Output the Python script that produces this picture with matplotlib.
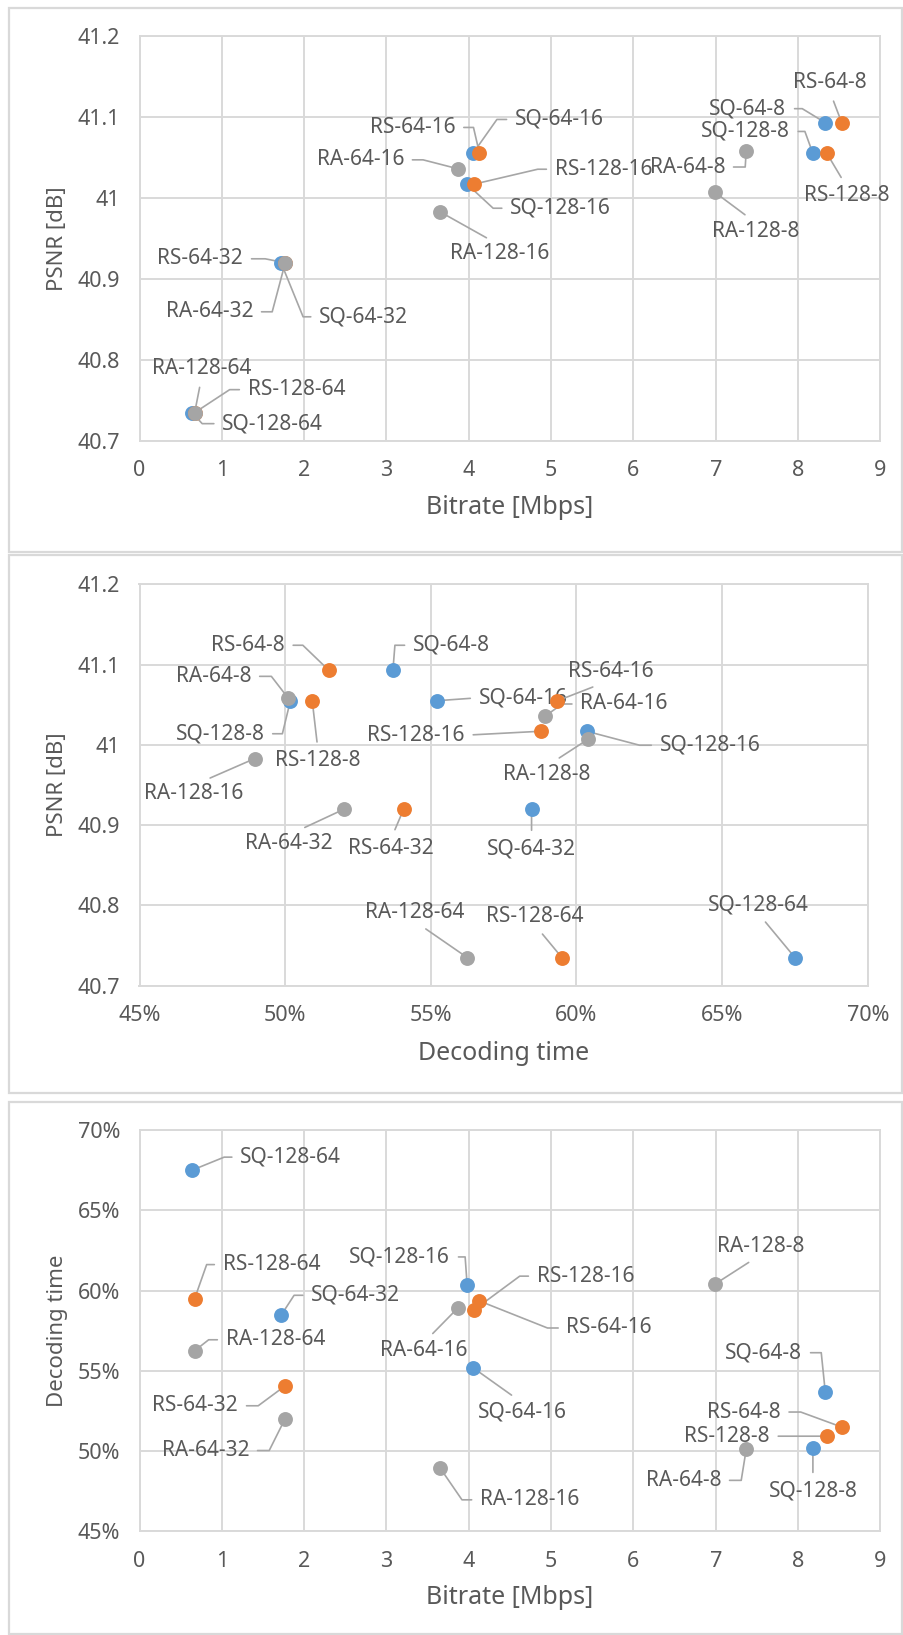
import matplotlib
matplotlib.use('Agg')
import matplotlib.pyplot as plt
from matplotlib.patches import Rectangle
from matplotlib.ticker import PercentFormatter
import numpy as np

plt.rcParams['font.family'] = ['Noto Sans', 'DejaVu Sans']

# ---- data ---------------------------------------------------------------
sq_names = ['SQ-64-8', 'SQ-128-8', 'SQ-64-16', 'SQ-128-16', 'SQ-64-32', 'SQ-128-64']
sq_bitrate = [8.33, 8.18, 4.05, 3.98, 1.72, 0.64]
sq_psnr = [41.093, 41.055, 41.055, 41.017, 40.920, 40.735]
sq_dec = [53.7, 50.18, 55.2, 60.35, 58.46, 67.5]

rs_names = ['RS-64-8', 'RS-128-8', 'RS-64-16', 'RS-128-16', 'RS-64-32', 'RS-128-64']
rs_bitrate = [8.53, 8.35, 4.13, 4.06, 1.77, 0.67]
rs_psnr = [41.093, 41.055, 41.055, 41.017, 40.920, 40.735]
rs_dec = [51.5, 50.93, 59.35, 58.78, 54.07, 59.5]

ra_names = ['RA-64-8', 'RA-128-8', 'RA-64-16', 'RA-128-16', 'RA-64-32', 'RA-128-64']
ra_bitrate = [7.37, 6.99, 3.87, 3.65, 1.77, 0.67]
ra_psnr = [41.058, 41.007, 41.036, 40.983, 40.920, 40.735]
ra_dec = [50.11, 60.4, 58.93, 48.96, 52.03, 56.25]

psnr_ticks = [40.7, 40.8, 40.9, 41.0, 41.1, 41.2]
bitrate_ticks = list(range(0, 10))
dec_ticks = [45, 50, 55, 60, 65, 70]

# ---- label placement (pixels from the point: dx, dy, side, elbow x) -----
lab1 = {
    'SQ-64-8': (-39, 14, 'r', -23), 'RS-64-8': (-12, 40, 'b', None),
    'SQ-128-8': (-23, 22, 'r', -8), 'RS-128-8': (20, -42, 't', None),
    'RA-64-8': (-21, -16, 'r', -1), 'RA-128-8': (41, -39, 't', None),
    'SQ-64-16': (42, 34, 'l', 24), 'RS-64-16': (-24, 26, 'r', -6),
    'RA-64-16': (-54, 9, 'r', -35), 'RS-128-16': (81, 15, 'l', 64),
    'SQ-128-16': (43, -24, 'l', 26), 'RA-128-16': (60, -42, 't', None),
    'RS-64-32': (-42, 4, 'r', -20), 'RA-64-32': (-32, -49, 'r', -13),
    'SQ-64-32': (38, -54, 'l', 22), 'RA-128-64': (7, 44, 'b', None),
    'RS-128-64': (53, 23, 'l', 35), 'SQ-128-64': (30, -11, 'l', 10),
}
lab2 = {
    'RS-64-8': (-44, 25, 'r', -26), 'SQ-64-8': (20, 25, 'l', 2),
    'RA-64-8': (-37, 22, 'r', -17), 'SQ-128-8': (-26, -33, 'r', -8),
    'RS-128-8': (6, -60, 't', None), 'SQ-64-16': (42, 3, 'l', None),
    'RS-128-16': (-76, -4, 'r', None), 'RA-128-16': (-61, -35, 't', None),
    'RA-64-32': (-55, -34, 't', None), 'RS-64-32': (-13, -39, 't', None),
    'SQ-64-32': (0, -40, 't', None), 'RS-64-16': (53, 29, 'b', None),
    'RA-64-16': (35, 12, 'l', 17), 'SQ-128-16': (73, -14, 'l', 53),
    'RA-128-8': (-41, -35, 't', None), 'RA-128-64': (-53, 45, 'b', None),
    'RS-128-64': (-27, 41, 'b', None), 'SQ-128-64': (-37, 53, 'b', None),
}
lab3 = {
    'SQ-128-64': (48, 13, 'l', 32), 'RS-128-64': (28, 34, 'l', 12),
    'SQ-64-32': (30, 20, 'l', 13), 'RA-128-64': (31, 11, 'l', 14),
    'RS-64-32': (-47, -20, 'r', -27), 'RA-64-32': (-36, -32, 'r', -16),
    'SQ-128-16': (-17, 28, 'r', -2), 'RA-64-16': (-34, -43, 't', None),
    'SQ-64-16': (50, -44, 't', None), 'RS-128-16': (63, 34, 'l', 46),
    'RS-64-16': (87, -27, 'l', 68), 'RA-128-8': (46, 38, 'b', None),
    'SQ-64-8': (-23, 39, 'r', -4), 'RS-64-8': (-61, 15, 'r', -41),
    'RS-128-8': (-57, 0, 'r', None), 'RA-64-8': (-25, -31, 'r', -5),
    'SQ-128-8': (0, -43, 't', None), 'RA-128-16': (40, -32, 'l', 22),
}

TXT = '#595959'
GRID = '#D9D9D9'
LEAD = '#A6A6A6'
series = [
    (sq_names, sq_bitrate, sq_psnr, sq_dec, '#5B9BD5'),
    (rs_names, rs_bitrate, rs_psnr, rs_dec, '#ED7D31'),
    (ra_names, ra_bitrate, ra_psnr, ra_dec, '#A5A5A5'),
]


def put_label(ax, x, y, text, dx, dy, side, ex):
    k = 0.72  # px -> pt at 100 dpi
    ha = {'r': 'right', 'l': 'left', 'b': 'center', 't': 'center'}[side]
    relpos = {'r': (1, 0.5), 'l': (0, 0.5), 'b': (0.5, 0.1), 't': (0.5, 0.9)}[side]
    if ex is None or dy == 0:
        conn = 'arc3'
    else:
        conn = 'angle,angleA=0,angleB=%.2f,rad=0' % np.degrees(np.arctan2(dy, ex))
    ax.annotate(text, (x, y), xytext=(dx * k, dy * k), textcoords='offset points',
                ha=ha, va='center', fontsize=15, color=TXT, zorder=3,
                arrowprops=dict(arrowstyle='-', color=LEAD, lw=1.2, relpos=relpos,
                                shrinkA=4, shrinkB=0, connectionstyle=conn))


def draw(ax, xi, yi, layout):
    for s in series:
        ax.scatter(s[xi], s[yi], s=115, color=s[4], linewidths=0, zorder=4)
        for name, x, y in zip(s[0], s[xi], s[yi]):
            put_label(ax, x, y, name, *layout[name])
    ax.set_axisbelow(True)
    ax.grid(True, color=GRID, lw=1.4)
    for sp in ax.spines.values():
        sp.set_color(GRID)
        sp.set_linewidth(1.4)
    ax.tick_params(length=0, labelsize=15.5, labelcolor=TXT)
    ax.tick_params(axis='x', pad=14)
    ax.tick_params(axis='y', pad=14)


fig = plt.figure(figsize=(9.04, 16.35), dpi=100)

# panel frames
for y0, y1 in [(8, 552), (555, 1093), (1102, 1634)]:
    fig.add_artist(Rectangle((9 / 904, 1 - y1 / 1635), 893 / 904, (y1 - y0) / 1635,
                             transform=fig.transFigure, fill=False,
                             edgecolor=GRID, lw=1.6))

ax1 = fig.add_axes([139.5 / 904, 1 - 441 / 1635, 740.9 / 904, 405 / 1635])
draw(ax1, 1, 2, lab1)
ax1.set_xlim(0, 9)
ax1.set_ylim(40.7, 41.2)
ax1.set_xticks(bitrate_ticks)
ax1.set_yticks(psnr_ticks)
ax1.set_yticklabels(['40.7', '40.8', '40.9', '41', '41.1', '41.2'])

ax2 = fig.add_axes([139.5 / 904, 1 - 985.6 / 1635, 728.2 / 904, 401.2 / 1635])
draw(ax2, 3, 2, lab2)
ax2.set_xlim(45, 70)
ax2.set_ylim(40.7, 41.2)
ax2.set_xticks(dec_ticks)
ax2.set_yticks(psnr_ticks)
ax2.set_yticklabels(['40.7', '40.8', '40.9', '41', '41.1', '41.2'])
ax2.xaxis.set_major_formatter(PercentFormatter(100, decimals=0))

ax3 = fig.add_axes([139.5 / 904, 1 - 1531.4 / 1635, 740.9 / 904, 401.4 / 1635])
draw(ax3, 1, 3, lab3)
ax3.set_xlim(0, 9)
ax3.set_ylim(45, 70)
ax3.set_xticks(bitrate_ticks)
ax3.set_yticks(dec_ticks)
ax3.yaxis.set_major_formatter(PercentFormatter(100, decimals=0))

# axis titles
fig.text(510 / 904, 1 - 507 / 1635, 'Bitrate [Mbps]', ha='center', va='center', fontsize=18, color=TXT)
fig.text(58 / 904, 1 - 238.5 / 1635, 'PSNR [dB]', rotation=90, ha='center', va='center',
         fontsize=16, fontweight='bold', color=TXT)
fig.text(503.6 / 904, 1 - 1053 / 1635, 'Decoding time', ha='center', va='center', fontsize=18, color=TXT)
fig.text(58 / 904, 1 - 785 / 1635, 'PSNR [dB]', rotation=90, ha='center', va='center',
         fontsize=16, fontweight='bold', color=TXT)
fig.text(510 / 904, 1 - 1597.5 / 1635, 'Bitrate [Mbps]', ha='center', va='center', fontsize=18, color=TXT)
fig.text(58 / 904, 1 - 1330.7 / 1635, 'Decoding time', rotation=90, ha='center', va='center',
         fontsize=16, fontweight='bold', color=TXT)

fig.savefig('out.png', dpi=100, facecolor='white')
